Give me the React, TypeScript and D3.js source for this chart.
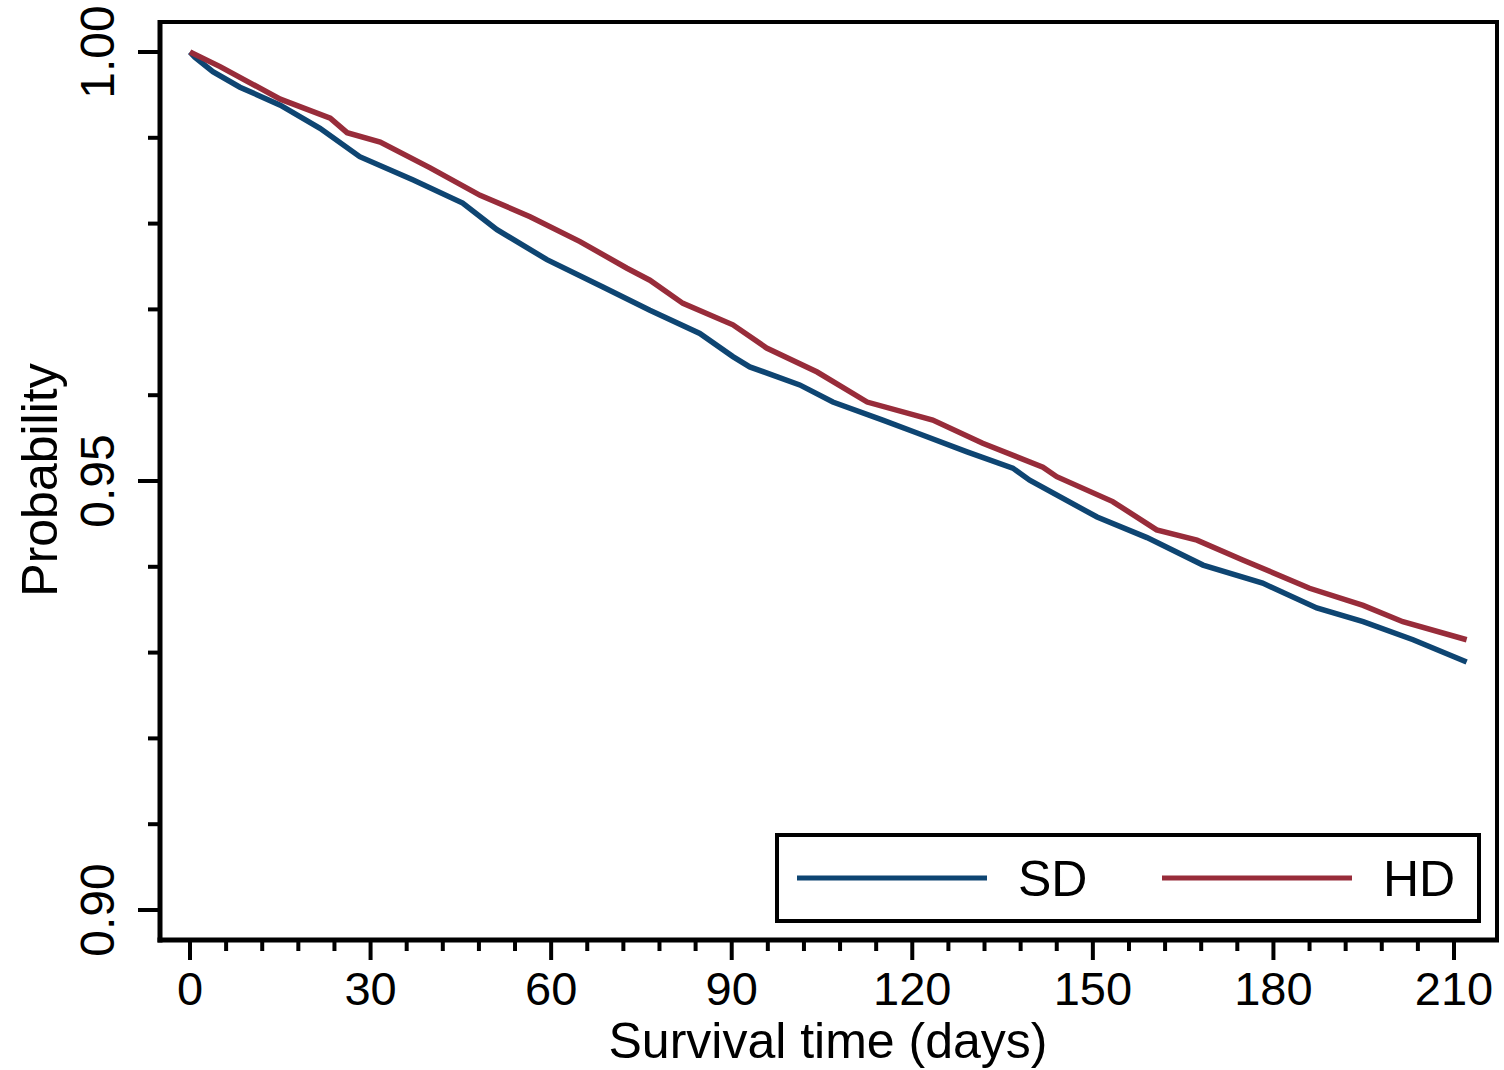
import React from "react";
import * as d3 from "d3";

const xTickMajor = [0, 30, 60, 90, 120, 150, 180, 210];
const yTickMajor = [0.9, 0.95, 1.0];
const yTickLabels = ["0.90", "0.95", "1.00"];

const sdDays = [0, 0.8, 3.8, 8.3, 15.0, 21.6, 28.2, 37.0, 45.3, 51.0, 59.3, 68.6, 76.4, 84.7, 90.2, 93.0, 101.3, 106.8, 115.1, 120.8, 129.1, 136.7, 139.5, 150.7, 159.0, 168.3, 178.2, 187.2, 194.9, 203.2, 212.1];
const sdSurv = [1.0, 0.9994, 0.9977, 0.9959, 0.9938, 0.9911, 0.9878, 0.9851, 0.9824, 0.9793, 0.9758, 0.9726, 0.9699, 0.9672, 0.9645, 0.9633, 0.9612, 0.9592, 0.9571, 0.9556, 0.9534, 0.9515, 0.9501, 0.9458, 0.9434, 0.9402, 0.9381, 0.9352, 0.9336, 0.9315, 0.9289];

const hdDays = [0, 5.0, 15.0, 23.3, 26.1, 31.6, 39.9, 48.2, 56.5, 64.8, 72.6, 76.4, 81.9, 90.2, 95.8, 104.2, 112.5, 123.4, 131.7, 141.7, 144.0, 153.3, 160.6, 167.3, 174.9, 186.0, 194.9, 201.5, 212.1];
const hdSurv = [1.0, 0.9983, 0.9945, 0.9923, 0.9906, 0.9895, 0.9865, 0.9833, 0.9808, 0.9779, 0.9748, 0.9734, 0.9707, 0.9682, 0.9655, 0.9627, 0.9592, 0.9571, 0.9544, 0.9516, 0.9505, 0.9476, 0.9443, 0.9431, 0.9408, 0.9375, 0.9355, 0.9336, 0.9315];

const seriesNames = ["SD", "HD"];
const seriesColors = ["#0e4572", "#982c3a"];

const W = 1504;
const H = 1070;
const FONT = "'Liberation Sans', Arial, sans-serif";

export default function App() {
  const x = d3.scaleLinear().domain([0, 210]).range([190, 1454]);
  const y = d3.scaleLinear().domain([0.9, 1.0]).range([910, 52]);

  const left = 160;
  const right = 1497;
  const top = 22;
  const bottom = 940;

  const line = d3
    .line<[number, number]>()
    .x((d) => x(d[0]))
    .y((d) => y(d[1]))
    .curve(d3.curveLinear);

  const sdPts: [number, number][] = sdDays.map((d, i) => [d, sdSurv[i]]);
  const hdPts: [number, number][] = hdDays.map((d, i) => [d, hdSurv[i]]);

  const xMinor = d3.range(0, 211, 6).filter((v) => v % 30 !== 0);
  const yMinor = d3.range(0, 11).map((i) => 0.9 + i * 0.01).filter((_, i) => i % 5 !== 0);

  return (
    <svg
      width={W}
      height={H}
      style={{ position: "absolute", left: 0, top: 0, background: "#fff" }}
      fontFamily={FONT}
    >
      <rect x={0} y={0} width={W} height={H} fill="#fff" />
      {/* series */}
      <path d={line(sdPts) || ""} fill="none" stroke={seriesColors[0]} strokeWidth={5.5} strokeLinejoin="miter" />
      <path d={line(hdPts) || ""} fill="none" stroke={seriesColors[1]} strokeWidth={5.5} strokeLinejoin="miter" />

      {/* frame */}
      <rect x={left} y={top} width={right - left} height={bottom - top} fill="none" stroke="#000" strokeWidth={4} />
      <line x1={left} x2={left} y1={top - 2} y2={bottom + 2.5} stroke="#000" strokeWidth={5} />
      <line x1={left - 2.5} x2={right + 2} y1={bottom} y2={bottom} stroke="#000" strokeWidth={5} />

      {/* y ticks */}
      {yTickMajor.map((v) => (
        <line key={"ym" + v} x1={138} x2={left} y1={y(v)} y2={y(v)} stroke="#000" strokeWidth={4} />
      ))}
      {yMinor.map((v) => (
        <line key={"yn" + v} x1={148} x2={left} y1={y(v)} y2={y(v)} stroke="#000" strokeWidth={4} />
      ))}
      {yTickMajor.map((v, i) => (
        <text
          key={"yl" + v}
          transform={`translate(114,${y(v)}) rotate(-90)`}
          textAnchor="middle"
          fontSize={48}
          fill="#000"
        >
          {yTickLabels[i]}
        </text>
      ))}

      {/* x ticks */}
      {xTickMajor.map((v) => (
        <line key={"xm" + v} x1={x(v)} x2={x(v)} y1={bottom} y2={960} stroke="#000" strokeWidth={4} />
      ))}
      {xMinor.map((v) => (
        <line key={"xn" + v} x1={x(v)} x2={x(v)} y1={bottom} y2={951} stroke="#000" strokeWidth={4} />
      ))}
      {xTickMajor.map((v) => (
        <text key={"xl" + v} x={x(v)} y={1005} textAnchor="middle" fontSize={47} fill="#000">
          {String(v)}
        </text>
      ))}

      {/* axis titles */}
      <text x={828} y={1058} textAnchor="middle" fontSize={50} fill="#000">
        Survival time (days)
      </text>
      <text transform="translate(57,480) rotate(-90)" textAnchor="middle" fontSize={50} fill="#000">
        Probability
      </text>

      {/* legend */}
      <rect x={777} y={835} width={702} height={86} fill="#fff" stroke="#000" strokeWidth={4} />
      <line x1={797} x2={987} y1={878} y2={878} stroke={seriesColors[0]} strokeWidth={5} />
      <text x={1018} y={896} fontSize={50} fill="#000">
        {seriesNames[0]}
      </text>
      <line x1={1162} x2={1352} y1={878} y2={878} stroke={seriesColors[1]} strokeWidth={5} />
      <text x={1383} y={896} fontSize={50} fill="#000">
        {seriesNames[1]}
      </text>
    </svg>
  );
}
